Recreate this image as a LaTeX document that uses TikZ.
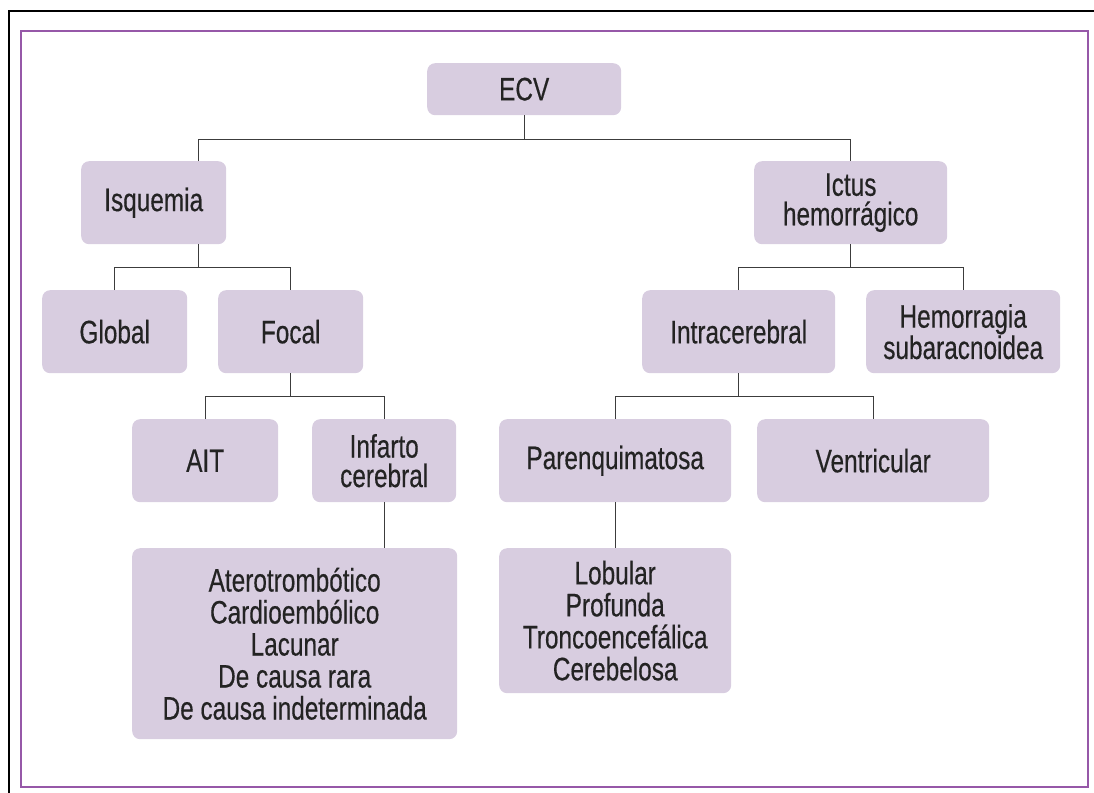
\documentclass[tikz,border=0pt]{standalone}
\usepackage{fontspec}
\setmainfont[FakeStretch=0.75,FakeBold=0.4]{Liberation Sans}
\usetikzlibrary{calc}
\definecolor{boxfill}{RGB}{216,205,224}
\definecolor{framepurple}{RGB}{150,88,168}
\definecolor{txt}{RGB}{35,35,35}
\definecolor{linecol}{RGB}{60,60,60}
\tikzset{
  box/.style={draw=none, fill=boxfill, rounded corners=8pt, anchor=north west,
    inner sep=0pt, align=center, text=txt,
    font=\fontsize{32.5}{29.5}\selectfont},
  listbox/.style={box, font=\fontsize{32.5}{32}\selectfont},
  conn/.style={draw=linecol, line width=1.2pt},
}
\begin{document}
\begin{tikzpicture}[x=1pt,y=-1pt]
\useasboundingbox (0,0) rectangle (1094,792);
% frames
\draw[line width=2pt, black] (8.5,800) -- (8.5,11.5) -- (1100,11.5);
\draw[line width=1.5pt, framepurple] (21,31) rectangle (1088,787);
% nodes
\node[box, minimum width=194pt, minimum height=52pt] (ecv) at (427,63) {ECV};
\node[box, minimum width=145pt, minimum height=83pt] (isq) at (81,161) {Isquemia};
\node[box, minimum width=193pt, minimum height=83pt] (ih) at (754,161) {Ictus\\hemorrágico};
\node[box, minimum width=145pt, minimum height=83pt] (glob) at (42,290) {Global};
\node[box, minimum width=145pt, minimum height=83pt] (foc) at (218,290) {Focal};
\node[box, minimum width=193pt, minimum height=83pt] (intra) at (642,290) {Intracerebral};
\node[box, minimum width=194pt, minimum height=83pt] (hsa) at (866,290) {Hemorragia\\subaracnoidea};
\node[box, minimum width=146pt, minimum height=83pt] (ait) at (132,419) {AIT};
\node[box, minimum width=144pt, minimum height=83pt] (inf) at (312,419) {Infarto\\cerebral};
\node[box, minimum width=232pt, minimum height=83pt] (par) at (499,419) {Parenquimatosa};
\node[box, minimum width=232pt, minimum height=83pt] (ven) at (757,419) {Ventricular};
\node[listbox, minimum width=325pt, minimum height=191pt] (big) at (132,548) {Aterotrombótico\\Cardioembólico\\Lacunar\\De causa rara\\De causa indeterminada};
\node[listbox, minimum width=232pt, minimum height=145pt] (lob) at (499,548) {Lobular\\Profunda\\Troncoencefálica\\Cerebelosa};
% junctions
\coordinate (j1) at ($(ecv.south)+(0,24)$);
\coordinate (isqtop) at ($(isq.north east)+(-28,0)$);
\coordinate (isqbot) at ($(isq.south east)+(-28,0)$);
\coordinate (j2) at ($(isqbot)+(0,23)$);
\coordinate (j3) at ($(foc.south)+(0,23)$);
\coordinate (j4) at ($(ih.south)+(0,23)$);
\coordinate (j5) at ($(intra.south)+(0,23)$);
% connectors
\draw[conn] (ecv.south) -- (j1);
\draw[conn] (isqtop) |- (j1) -| (ih.north);
\draw[conn] (isqbot) -- (j2);
\draw[conn] (glob.north) |- (j2) -| (foc.north);
\draw[conn] (foc.south) -- (j3);
\draw[conn] (ait.north) |- (j3) -| (inf.north);
\draw[conn] (inf.south) -- (inf.south |- big.north);
\draw[conn] (ih.south) -- (j4);
\draw[conn] (intra.north) |- (j4) -| (hsa.north);
\draw[conn] (intra.south) -- (j5);
\draw[conn] (par.north) |- (j5) -| (ven.north);
\draw[conn] (par.south) -- (lob.north);
\end{tikzpicture}
\end{document}
